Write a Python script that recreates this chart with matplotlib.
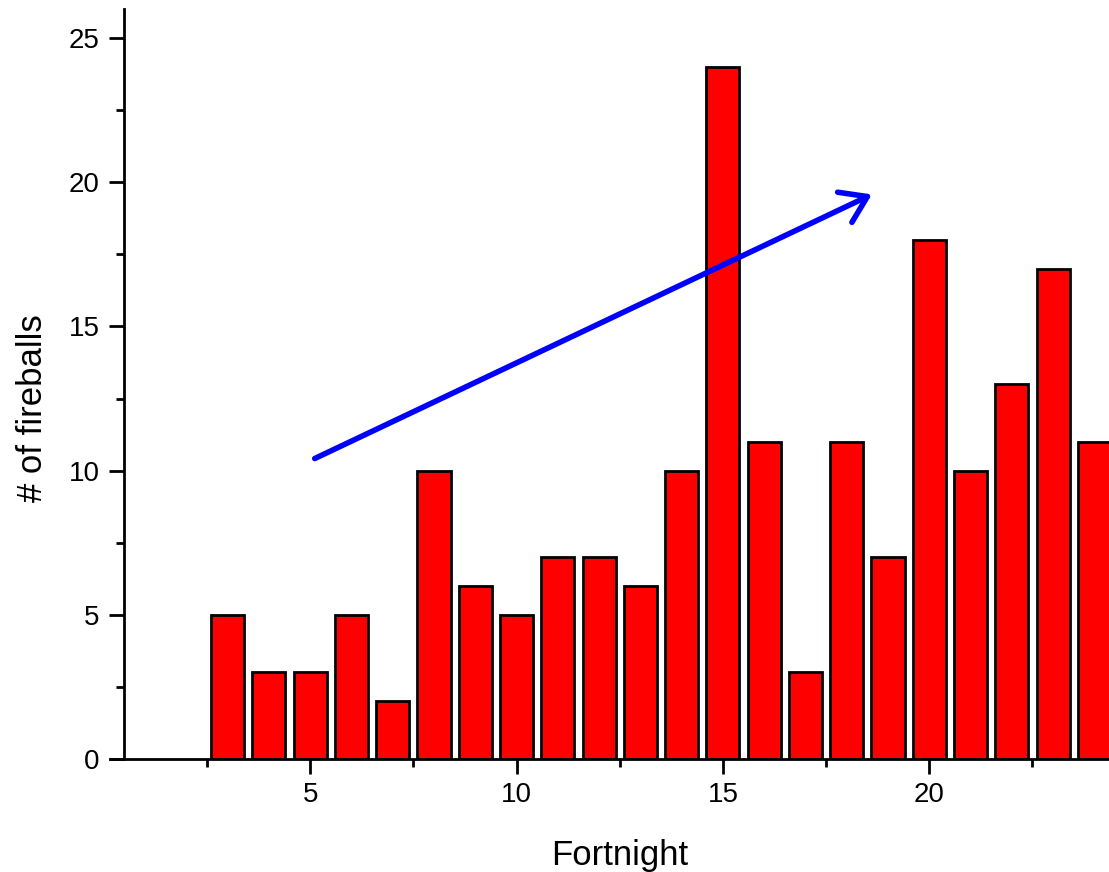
import matplotlib
matplotlib.use("Agg")
import matplotlib.pyplot as plt
from matplotlib.ticker import MultipleLocator
from matplotlib.patches import FancyArrowPatch, ArrowStyle

plt.rcParams['font.family'] = ['Liberation Sans', 'DejaVu Sans']

# dati: numero di bolidi per quindicina
fortnight = [3, 4, 5, 6, 7, 8, 9, 10, 11, 12, 13, 14, 15, 16, 17, 18, 19, 20, 21, 22, 23, 24]
fireballs = [5, 3, 3, 5, 2, 10, 6, 5, 7, 7, 6, 10, 24, 11, 3, 11, 7, 18, 10, 13, 17, 11]

# freccia di tendenza (coordinate dati)
trend_start = (5.11, 10.42)
trend_end = (18.61, 19.58)

W, H = 1109, 872
fig = plt.figure(figsize=(W / 100, H / 100), dpi=100)
ax = fig.add_axes([110 / W, 1 - 759 / H, 1005 / W, (759 - 9.3) / H])

ax.bar(fortnight, fireballs, width=0.8, color='#FF0000',
       edgecolor='black', linewidth=2, zorder=2)

arrow = FancyArrowPatch(trend_start, trend_end,
                        arrowstyle=ArrowStyle('->', head_length=18, head_width=12),
                        mutation_scale=1, color='#0000FF', linewidth=4,
                        shrinkA=0, shrinkB=0, capstyle='round',
                        joinstyle='round', zorder=3)
ax.add_patch(arrow)

ax.set_xlim(0.15, 24.5)
ax.set_ylim(0, 26)

ax.spines['top'].set_visible(False)
ax.spines['right'].set_visible(False)
ax.spines['left'].set_position(('data', 0.5))
for s in ('left', 'bottom'):
    ax.spines[s].set_linewidth(2)

ax.xaxis.set_major_locator(MultipleLocator(5))
ax.xaxis.set_minor_locator(MultipleLocator(2.5))
ax.yaxis.set_major_locator(MultipleLocator(5))
ax.yaxis.set_minor_locator(MultipleLocator(2.5))

ax.tick_params(which='major', direction='out', length=10.8, width=2,
               labelsize=20, pad=7)
ax.tick_params(which='minor', direction='out', length=6, width=2)
ax.tick_params(axis='x', which='major', pad=6)

fig.text(620 / W, 1 - 865 / H, 'Fortnight', fontsize=25,
         ha='center', va='baseline')
fig.text(42 / W, 1 - 408 / H, '# of fireballs', fontsize=25,
         ha='center', va='baseline', rotation=90, rotation_mode='anchor')

fig.savefig('out.png', dpi=100)
